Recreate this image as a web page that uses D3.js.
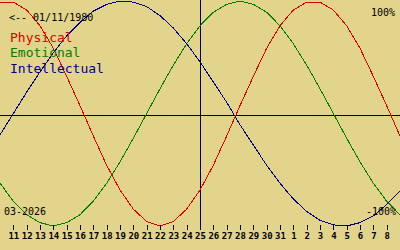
<!DOCTYPE html>
<html><head><meta charset="utf-8">
<script src="https://cdn.jsdelivr.net/npm/d3@7"></script>
<style>
html,body{margin:0;padding:0;background:#e2d48a;overflow:hidden}
svg{display:block}
text{font-family:"DejaVu Sans Mono",monospace}
</style></head><body>
<svg id="c" width="400" height="250"></svg>
<script>
// Days shown: 10 March 2026 .. 9 April 2026 (index 15 = today, 25)
const days = ["10","11","12","13","14","15","16","17","18","19","20","21","22","23","24","25","26","27","28","29","30","31","1","2","3","4","5","6","7","8","9"];
const physical = [99,99,92,78,58,33,7,-20,-46,-68,-85,-96,-100,-96,-85,-68,-46,-20,7,33,58,78,92,99,99,92,78,58,33,7,-20];
const emotional = [-62,-78,-90,-97,-100,-97,-90,-78,-62,-43,-22,0,22,43,62,78,90,97,100,97,90,78,62,43,22,0,-22,-43,-62,-78,-90];
const intellectual = [-19,0,19,37,54,69,81,91,97,100,99,95,87,76,62,46,28,10,-10,-28,-46,-62,-76,-87,-95,-99,-100,-97,-91,-81,-69];
const seriesNames = ["Physical","Emotional","Intellectual"];
const seriesColors = ["#e00000","#008000","#000090"];
const birthLabel = "<-- 01/11/1980";
const monthLabel = "03-2026";
const topLabel = "100%";
const bottomLabel = "-100%";
const todayIndex = 15;

const W = 400, plotH = 230;
const svg = d3.select("#c");
const x = d3.scaleLinear().domain([0, days.length - 1]).range([0, W]);
const y = d3.scaleLinear().domain([-100, 100]).range([226, 1]);

// zero line and today line
svg.append("line").attr("x1", 0).attr("x2", W).attr("y1", plotH/2 + 0.5).attr("y2", plotH/2 + 0.5)
  .attr("stroke", "#000").attr("stroke-width", 1).attr("shape-rendering", "crispEdges");
svg.append("line").attr("x1", Math.floor(x(todayIndex)) + 0.5).attr("x2", Math.floor(x(todayIndex)) + 0.5)
  .attr("y1", 0).attr("y2", plotH).attr("stroke", "#000").attr("stroke-width", 1).attr("shape-rendering", "crispEdges");

// curves
const line = d3.line().x((d, i) => x(i)).y(d => y(d));
[physical, emotional, intellectual].forEach((s, k) => {
  svg.append("path").datum(s).attr("d", line).attr("fill", "none")
    .attr("stroke", seriesColors[k]).attr("stroke-width", 1).attr("shape-rendering", "crispEdges");
});

// day axis
const axis = d3.axisBottom(x).tickValues(d3.range(1, days.length - 1)).tickFormat(i => days[i]).tickSize(5).tickPadding(3);
const g = svg.append("g").attr("transform", "translate(0,225)").call(axis);
g.select(".domain").remove();
g.selectAll(".tick line").attr("stroke", "#000").attr("shape-rendering", "crispEdges");
g.selectAll(".tick text").attr("fill", "#000").style("font-family", "'DejaVu Sans Mono',monospace")
  .style("font-size", "9px").style("font-weight", "bold");

// texts
svg.append("text").attr("x", 9).attr("y", 21).attr("font-size", 10).attr("fill", "#000").text(birthLabel);
svg.append("text").attr("x", 395).attr("y", 16).attr("font-size", 10).attr("text-anchor", "end").attr("fill", "#000").text(topLabel);
svg.append("text").attr("x", 396).attr("y", 215).attr("font-size", 10).attr("text-anchor", "end").attr("fill", "#000").text(bottomLabel);
svg.append("text").attr("x", 4).attr("y", 215).attr("font-size", 10).attr("fill", "#000").text(monthLabel);
seriesNames.forEach((n, k) => {
  svg.append("text").attr("x", 10).attr("y", 41.5 + k * 15.5).attr("font-size", 13)
    .attr("fill", seriesColors[k]).text(n);
});
</script>
</body></html>
